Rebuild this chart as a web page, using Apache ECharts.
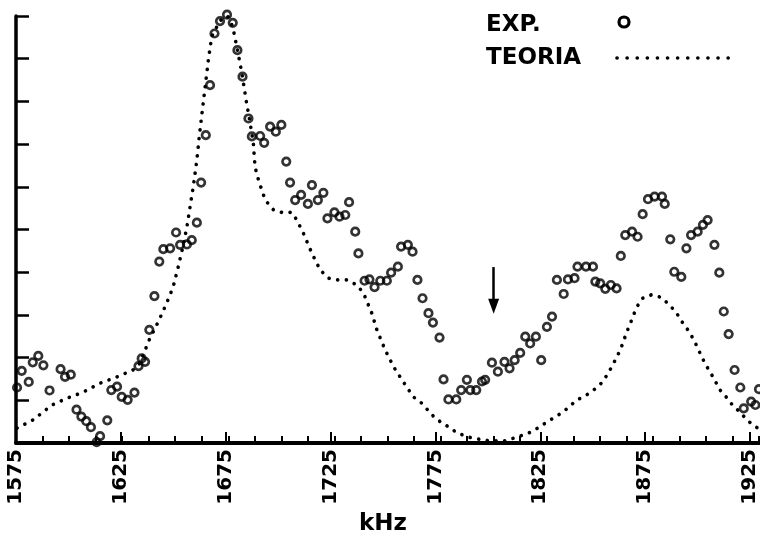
<!DOCTYPE html>
<html>
<head>
<meta charset="utf-8">
<script src="https://cdn.jsdelivr.net/npm/echarts@6/dist/echarts.min.js"></script>
<style>
  html, body { margin: 0; padding: 0; background: #fff; }
  #main { width: 760px; height: 541px; }
</style>
</head>
<body>
<div id="main"></div>
<script>
// frequency range (kHz) and intensity range (arbitrary units)
const xMin = 1575
const xMax = 1925
const yMax = 10

// experimental points (circles)
const expKHz = [
  1575.5, 1577.7, 1581.0, 1582.9, 1585.5, 1587.9, 1590.8, 1596.0, 1598.1, 1600.8,
  1603.5, 1605.8, 1608.1, 1610.3, 1613.0, 1614.6, 1618.0, 1619.9, 1622.6, 1624.8,
  1627.6, 1630.8, 1632.7, 1634.2, 1635.8, 1637.8, 1640.2, 1642.5, 1644.4, 1647.6,
  1650.4, 1652.3, 1655.5, 1657.8, 1660.2, 1662.2, 1664.4, 1666.4, 1668.5, 1671.1,
  1674.4, 1677.1, 1679.3, 1681.7, 1684.5, 1686.1, 1690.0, 1691.9, 1694.7, 1697.4,
  1700.0, 1702.3, 1704.1, 1706.5, 1709.3, 1712.5, 1714.4, 1717.2, 1719.8, 1721.7,
  1725.0, 1727.4, 1730.1, 1731.9, 1734.8, 1736.3, 1739.2, 1741.5, 1743.9, 1746.6,
  1749.7, 1751.7, 1754.9, 1756.4, 1759.6, 1761.8, 1764.1, 1766.5, 1769.3, 1771.4,
  1774.5, 1776.4, 1778.7, 1782.4, 1784.7, 1787.4, 1789.0, 1791.8, 1794.5, 1796.0,
  1799.2, 1802.0, 1805.1, 1807.5, 1809.9, 1812.5, 1814.9, 1817.2, 1819.9, 1822.4,
  1825.1, 1827.5, 1829.8, 1833.0, 1835.0, 1838.1, 1839.5, 1843.5, 1846.8, 1847.9,
  1850.2, 1852.6, 1855.2, 1857.9, 1859.9, 1862.0, 1865.2, 1867.8, 1870.2, 1872.7,
  1875.8, 1879.3, 1880.6, 1883.2, 1885.1, 1888.4, 1890.8, 1893.0, 1896.1, 1898.6,
  1900.8, 1904.0, 1906.3, 1908.4, 1910.7, 1913.5, 1916.2, 1917.8, 1921.3, 1923.3,
  1925.0
]
const expVal = [
  1.30, 1.69, 1.43, 1.89, 2.04, 1.82, 1.23, 1.73, 1.55, 1.60,
  0.78, 0.62, 0.51, 0.37, 0.02, 0.16, 0.53, 1.24, 1.32, 1.08,
  1.01, 1.18, 1.80, 1.98, 1.90, 2.65, 3.44, 4.25, 4.54, 4.56,
  4.93, 4.64, 4.65, 4.75, 5.16, 6.10, 7.21, 8.38, 9.59, 9.88,
  10.03, 9.84, 9.20, 8.58, 7.60, 7.18, 7.19, 7.03, 7.41, 7.29,
  7.45, 6.59, 6.10, 5.69, 5.81, 5.60, 6.04, 5.69, 5.86, 5.26,
  5.40, 5.30, 5.34, 5.64, 4.95, 4.44, 3.80, 3.83, 3.65, 3.80,
  3.80, 3.99, 4.13, 4.60, 4.64, 4.48, 3.82, 3.39, 3.04, 2.82,
  2.47, 1.49, 1.02, 1.02, 1.24, 1.48, 1.24, 1.24, 1.44, 1.48,
  1.88, 1.67, 1.90, 1.75, 1.94, 2.11, 2.49, 2.33, 2.49, 1.94,
  2.72, 2.96, 3.82, 3.49, 3.83, 3.86, 4.13, 4.13, 4.13, 3.78,
  3.74, 3.61, 3.70, 3.62, 4.38, 4.87, 4.95, 4.83, 5.36, 5.71,
  5.77, 5.77, 5.60, 4.77, 4.01, 3.89, 4.56, 4.87, 4.95, 5.11,
  5.22, 4.64, 3.99, 3.08, 2.55, 1.71, 1.30, 0.81, 0.97, 0.89,
  1.26
]

// theory curve (dotted)
const teoKHz = [
  1575.5, 1583.0, 1592.0, 1599.0, 1606.6, 1614.6, 1622.6, 1630.1, 1633.4, 1637.7,
  1642.4, 1646.0, 1649.0, 1651.4, 1653.6, 1655.5, 1657.0, 1658.6, 1660.2, 1661.4,
  1662.8, 1664.1, 1665.6, 1667.2, 1671.1, 1674.6, 1677.1, 1679.0, 1681.4, 1683.4,
  1685.3, 1686.8, 1687.6, 1689.2, 1692.4, 1696.3, 1700.2, 1704.9, 1707.3, 1710.4,
  1714.4, 1718.3, 1722.2, 1726.1, 1730.9, 1735.6, 1738.7, 1742.6, 1745.0, 1748.9,
  1752.8, 1756.8, 1762.2, 1766.2, 1770.9, 1774.8, 1778.7, 1782.7, 1787.4, 1790.5,
  1798.4, 1805.5, 1811.7, 1816.4, 1820.4, 1826.7, 1830.6, 1833.7, 1839.3, 1843.6,
  1847.1, 1850.7, 1853.4, 1855.7, 1858.1, 1860.0, 1861.5, 1862.8, 1864.4, 1865.9,
  1867.5, 1870.2, 1874.3, 1879.0, 1882.9, 1886.1, 1888.7, 1891.9, 1893.9, 1895.8,
  1897.8, 1899.7, 1902.1, 1904.1, 1906.3, 1909.5, 1912.8, 1915.9, 1919.4, 1922.2,
  1924.7
]
const teoVal = [
  0.35, 0.54, 0.89, 1.05, 1.19, 1.40, 1.55, 1.71, 1.87, 2.41,
  2.88, 3.28, 3.65, 4.12, 4.59, 5.06, 5.53, 6.04, 6.63, 7.21,
  7.80, 8.34, 8.97, 9.52, 9.89, 10.0, 9.75, 9.28, 8.66, 8.03,
  7.49, 7.02, 6.47, 6.16, 5.69, 5.46, 5.40, 5.40, 5.22, 4.91,
  4.44, 4.05, 3.86, 3.82, 3.82, 3.70, 3.51, 3.04, 2.65, 2.18,
  1.79, 1.48, 1.08, 0.93, 0.66, 0.50, 0.38, 0.24, 0.15, 0.11,
  0.05, 0.05, 0.15, 0.23, 0.34, 0.54, 0.66, 0.77, 1.01, 1.12,
  1.24, 1.40, 1.59, 1.79, 2.02, 2.22, 2.43, 2.61, 2.80, 3.00,
  3.19, 3.39, 3.47, 3.41, 3.23, 3.05, 2.84, 2.62, 2.45, 2.26,
  2.04, 1.85, 1.65, 1.48, 1.26, 1.08, 0.87, 0.73, 0.54, 0.42,
  0.34
]

// arrow marking the frequency of interest
const arrowKHz = 1800
const arrowTop = 4.12
const arrowTip = 3.2

const FONT = 'DejaVu Sans'
const dots = [0.1, 8.6]

const chart = echarts.init(document.getElementById('main'))

const gridBox = { left: 16, right: 1, top: 16, bottom: 98 }

chart.setOption({
  animation: false,
  backgroundColor: '#fff',
  grid: [
    Object.assign({}, gridBox),
    Object.assign({}, gridBox)
  ],
  xAxis: [
    {
      // minor ticks every 12.5 kHz
      type: 'value',
      gridIndex: 0,
      min: xMin,
      max: xMax,
      interval: 12.5,
      axisLine: { show: true, lineStyle: { color: '#000', width: 4 } },
      axisTick: { show: true, inside: true, length: 7, lineStyle: { color: '#000', width: 2 } },
      axisLabel: { show: false },
      splitLine: { show: false }
    },
    {
      // major ticks + labels every 50 kHz (offset from xMin)
      type: 'value',
      gridIndex: 1,
      min: 0,
      max: xMax - xMin,
      interval: 50,
      name: 'kHz',
      nameLocation: 'middle',
      nameGap: 70,
      nameTextStyle: { fontFamily: FONT, fontWeight: 'bold', fontSize: 23, color: '#000' },
      axisLine: { show: false },
      axisTick: { show: true, inside: true, length: 11, lineStyle: { color: '#000', width: 2 } },
      axisLabel: {
        show: true,
        rotate: 90,
        margin: 6,
        fontFamily: FONT,
        fontWeight: 'bold',
        fontSize: 20,
        color: '#000',
        formatter: function (v) { return String(xMin + v) }
      },
      splitLine: { show: false }
    }
  ],
  yAxis: [
    {
      type: 'value',
      gridIndex: 0,
      min: 0,
      max: yMax,
      interval: 1,
      axisLine: { show: true, lineStyle: { color: '#000', width: 3.5 } },
      axisTick: { show: true, inside: true, length: 13, lineStyle: { color: '#000', width: 2.5 } },
      axisLabel: { show: false },
      splitLine: { show: false }
    },
    {
      type: 'value',
      gridIndex: 1,
      min: 0,
      max: yMax,
      show: false
    }
  ],
  series: [
    {
      name: 'TEORIA',
      type: 'line',
      xAxisIndex: 0,
      yAxisIndex: 0,
      data: teoKHz.map((k, i) => [k, teoVal[i]]),
      showSymbol: false,
      clip: false,
      z: 2,
      lineStyle: { color: '#000', width: 3.6, type: dots, cap: 'round', join: 'round' },
      markLine: {
        silent: true,
        symbol: ['none', 'triangle'],
        symbolSize: [11, 15],
        label: { show: false },
        lineStyle: { color: '#000', width: 2.5, type: 'solid' },
        data: [[{ coord: [arrowKHz, arrowTop] }, { coord: [arrowKHz, arrowTip] }]]
      }
    },
    {
      name: 'EXP.',
      type: 'scatter',
      xAxisIndex: 0,
      yAxisIndex: 0,
      data: expKHz.map((k, i) => [k, expVal[i]]),
      symbol: 'circle',
      symbolSize: 7.5,
      clip: false,
      z: 3,
      itemStyle: { color: 'rgba(0,0,0,0)', borderColor: '#000', borderWidth: 2.7 }
    }
  ],
  graphic: [
    {
      type: 'text', left: 486, top: 14,
      style: { text: 'EXP.', fontFamily: FONT, fontWeight: 'bold', fontSize: 23, fill: '#000' }
    },
    {
      type: 'text', left: 486, top: 47,
      style: { text: 'TEORIA', fontFamily: FONT, fontWeight: 'bold', fontSize: 23, fill: '#000' }
    },
    {
      type: 'circle',
      shape: { cx: 624, cy: 22, r: 5 },
      style: { fill: 'none', stroke: '#000', lineWidth: 3.2 }
    },
    {
      type: 'polyline',
      shape: { points: [[617, 58], [732, 58]] },
      style: { stroke: '#000', lineWidth: 3.6, lineDash: [0.1, 10], lineCap: 'round' }
    }
  ]
})
</script>
</body>
</html>
